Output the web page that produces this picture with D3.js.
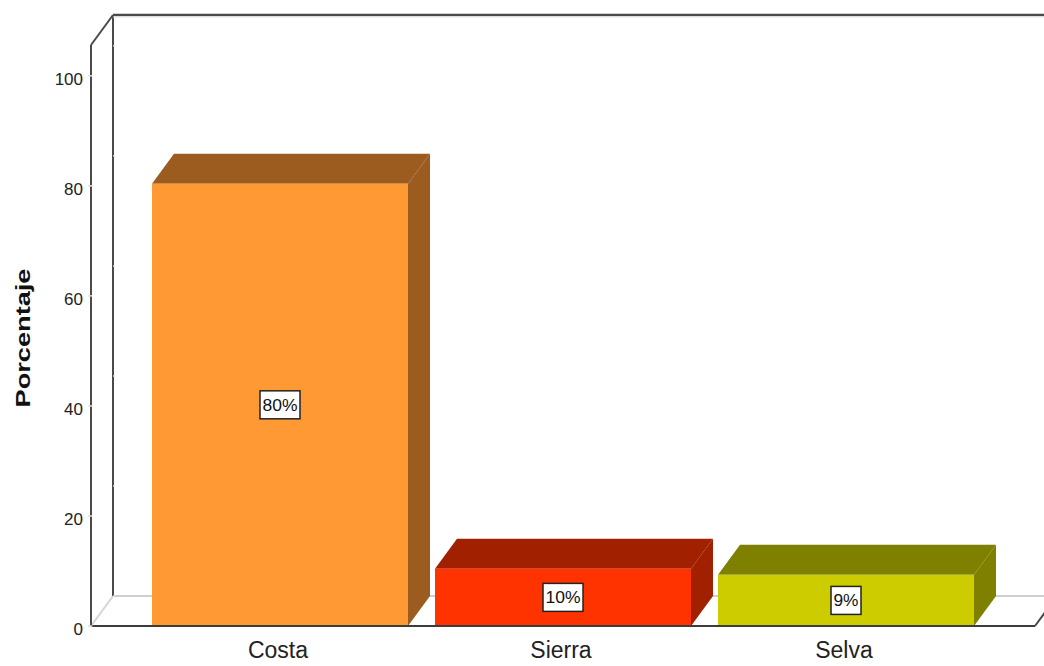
<!DOCTYPE html>
<html><head><meta charset="utf-8">
<script src="https://cdn.jsdelivr.net/npm/d3@7"></script>
<style>body{margin:0;background:#fff}svg{display:block}</style>
</head><body>
<svg id="c" width="1044" height="666"></svg>
<script>
const categories = ["Costa", "Sierra", "Selva"];
const values = [80.4, 10.4, 9.3];
const valueLabels = ["80%", "10%", "9%"];
const frontColors = ["#FF9933", "#FF3300", "#CCCC00"];
const darkColors = ["#9C5C20", "#A02000", "#808000"];
const yTicks = [0, 20, 40, 60, 80, 100];
const yTitle = "Porcentaje";

const svg = d3.select("#c");
const font = "'Liberation Sans', Arial, sans-serif";
const dx = 22, dy = -30;
const x0 = 91, x1 = 1035;
const y = d3.scaleLinear().domain([0, 105.6]).range([626, 45]);
const x = d3.scaleBand().domain(categories).range([x0, x1]).paddingInner(0.0954).paddingOuter(0.2155);

const g = svg.append("g");
g.append("line").attr("x1", x0 + dx).attr("y1", y(0) + dy).attr("x2", 1080).attr("y2", y(0) + dy)
  .attr("stroke", "#cfcfcf").attr("stroke-width", 2);
g.append("line").attr("x1", x0).attr("y1", y(0)).attr("x2", x0 + dx).attr("y2", y(0) + dy)
  .attr("stroke", "#d4d4d4").attr("stroke-width", 2);
g.append("line").attr("x1", x0 + dx).attr("y1", y.range()[1] + dy).attr("x2", x0 + dx).attr("y2", y(0) + dy)
  .attr("stroke", "#4a4a4a").attr("stroke-width", 2);
g.append("line").attr("x1", x0 + dx).attr("y1", y.range()[1] + dy).attr("x2", 1080).attr("y2", y.range()[1] + dy)
  .attr("stroke", "#4a4a4a").attr("stroke-width", 2.5);
g.append("line").attr("x1", x0 + dx).attr("y1", y.range()[1] + dy + 2).attr("x2", 1080).attr("y2", y.range()[1] + dy + 2)
  .attr("stroke", "#e6e6e6").attr("stroke-width", 1);
g.append("line").attr("x1", x0).attr("y1", y.range()[1]).attr("x2", x0 + dx).attr("y2", y.range()[1] + dy)
  .attr("stroke", "#4a4a4a").attr("stroke-width", 2);
g.selectAll(".bt").data(yTicks).join("line")
  .attr("x1", x0 + dx).attr("x2", x0 + dx + 2).attr("y1", d => y(d) + dy).attr("y2", d => y(d) + dy)
  .attr("stroke", "#e0e0e0").attr("stroke-width", 1.5);
g.append("line").attr("x1", x1).attr("y1", y(0)).attr("x2", x1 + dx).attr("y2", y(0) + dy)
  .attr("stroke", "#4a4a4a").attr("stroke-width", 2);

const bars = svg.append("g").selectAll("g").data(categories).join("g");
bars.each(function(c, i) {
  const gg = d3.select(this);
  const bx = x(c), bw = x.bandwidth(), top = y(values[i]), bot = y(0);
  gg.append("path").attr("d", `M${bx + bw},${top}L${bx + bw + dx},${top + dy}L${bx + bw + dx},${bot + dy}L${bx + bw},${bot}Z`)
    .attr("fill", darkColors[i]);
  gg.append("path").attr("d", `M${bx},${top}L${bx + dx},${top + dy}L${bx + bw + dx},${top + dy}L${bx + bw},${top}Z`)
    .attr("fill", darkColors[i]);
  gg.append("rect").attr("x", bx).attr("y", top).attr("width", bw).attr("height", bot - top)
    .attr("fill", frontColors[i]);
  const cx = bx + bw / 2, cy = (top + bot) / 2;
  const bwid = valueLabels[i].length > 2 ? 40 : 30;
  gg.append("rect").attr("x", cx - bwid / 2).attr("y", cy - 14).attr("width", bwid).attr("height", 28)
    .attr("fill", "#fff").attr("stroke", "#222").attr("stroke-width", 1.5);
  gg.append("text").attr("x", cx).attr("y", cy + 6).attr("text-anchor", "middle")
    .attr("font-family", font).attr("font-size", 17).attr("fill", "#111")
    .attr("textLength", bwid - 5).attr("lengthAdjust", "spacingAndGlyphs").text(valueLabels[i]);
});

svg.append("line").attr("x1", x0).attr("y1", y(0)).attr("x2", x1).attr("y2", y(0))
  .attr("stroke", "#3c3c3c").attr("stroke-width", 2);
svg.append("line").attr("x1", x0).attr("y1", y.range()[1]).attr("x2", x0).attr("y2", y(0))
  .attr("stroke", "#4a4a4a").attr("stroke-width", 2);
svg.selectAll(".ft").data(yTicks).join("line")
  .attr("x1", x0 - 3).attr("x2", x0 + 1.5).attr("y1", d => y(d)).attr("y2", d => y(d))
  .attr("stroke", "#e0e0e0").attr("stroke-width", 1.5);

svg.append("g").selectAll("text").data(yTicks).join("text")
  .attr("x", 83).attr("y", d => y(d) + 9).attr("text-anchor", "end")
  .attr("font-family", font).attr("font-size", 17).attr("fill", "#222")
  .text(d => d);

svg.append("g").selectAll("text").data(categories).join("text")
  .attr("x", d => x(d) + x.bandwidth() / 2 - 2).attr("y", 658).attr("text-anchor", "middle")
  .attr("font-family", font).attr("font-size", 23).attr("fill", "#222")
  .text(d => d);

svg.append("text").attr("transform", "translate(30,338) rotate(-90)").attr("text-anchor", "middle")
  .attr("font-family", font).attr("font-size", 21).attr("font-weight", "bold").attr("fill", "#111")
  .attr("textLength", 139).attr("lengthAdjust", "spacingAndGlyphs")
  .text(yTitle);
</script>
</body></html>
